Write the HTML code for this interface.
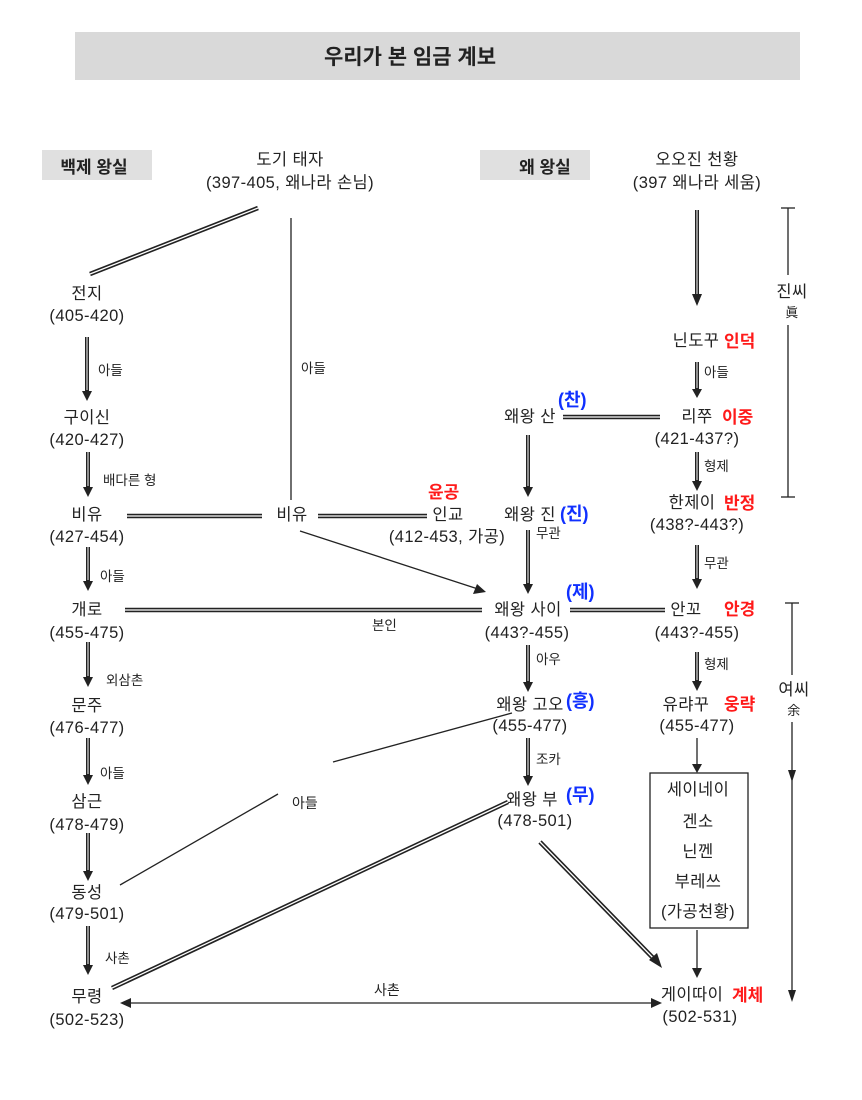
<!DOCTYPE html>
<html><head><meta charset="utf-8">
<style>
html,body{margin:0;padding:0;background:#fff;}
svg{display:block;}
text{font-family:"Liberation Sans","Noto Sans CJK KR",sans-serif;fill:#222;}
.n{font-size:16.5px;text-anchor:middle;letter-spacing:0.4px;}
.s{font-size:13.5px;}
.r{fill:#ff1a1a;font-size:17px;font-weight:bold;}
.b{fill:#1030ff;font-size:18px;font-weight:bold;}
</style></head><body>
<svg width="862" height="1100" viewBox="0 0 862 1100" xmlns="http://www.w3.org/2000/svg">
<rect x="75" y="32" width="725" height="48" fill="#d9d9d9"/>
<text x="410" y="64" style="font-size:21px;font-weight:bold;text-anchor:middle">우리가 본 임금 계보</text>
<rect x="42" y="150" width="110" height="30" fill="#e0e0e0"/>
<text x="94" y="173" style="font-size:17px;font-weight:bold;text-anchor:middle">백제 왕실</text>
<rect x="480" y="150" width="110" height="30" fill="#e0e0e0"/>
<text x="545" y="173" style="font-size:17px;font-weight:bold;text-anchor:middle">왜 왕실</text>

<g class="n">
<text x="290" y="165">도기 태자</text>
<text x="290" y="188">(397-405, 왜나라 손님)</text>
<text x="697" y="165">오오진 천황</text>
<text x="697" y="188">(397 왜나라 세움)</text>

<text x="87" y="299">전지</text><text x="87" y="321">(405-420)</text>
<text x="87" y="423">구이신</text><text x="87" y="445">(420-427)</text>
<text x="87" y="520">비유</text><text x="87" y="542">(427-454)</text>
<text x="292" y="520">비유</text>
<text x="448" y="520">인교</text><text x="447" y="542">(412-453, 가공)</text>
<text x="87" y="615">개로</text><text x="87" y="638">(455-475)</text>
<text x="87" y="711">문주</text><text x="87" y="733">(476-477)</text>
<text x="87" y="807">삼근</text><text x="87" y="830">(478-479)</text>
<text x="87" y="898">동성</text><text x="87" y="919">(479-501)</text>
<text x="87" y="1002">무령</text><text x="87" y="1025">(502-523)</text>

<text x="530" y="422">왜왕 산</text>
<text x="530" y="520">왜왕 진</text>
<text x="528" y="615">왜왕 사이</text><text x="527" y="638">(443?-455)</text>
<text x="530" y="710">왜왕 고오</text><text x="530" y="731">(455-477)</text>
<text x="532" y="805">왜왕 부</text><text x="535" y="826">(478-501)</text>

<text x="696" y="346">닌도꾸</text>
<text x="697" y="422">리쭈</text><text x="697" y="444">(421-437?)</text>
<text x="692" y="508">한제이</text><text x="697" y="530">(438?-443?)</text>
<text x="686" y="615">안꼬</text><text x="697" y="638">(443?-455)</text>
<text x="686" y="710">유랴꾸</text><text x="697" y="731">(455-477)</text>
<text x="698" y="795">세이네이</text>
<text x="698" y="827">겐소</text>
<text x="698" y="857">닌껜</text>
<text x="698" y="887">부레쓰</text>
<text x="698" y="917">(가공천황)</text>
<text x="692" y="1000">게이따이</text><text x="700" y="1022">(502-531)</text>
<text x="792" y="297">진씨</text><text x="792" y="317" style="font-size:13px">眞</text>
<text x="794" y="695">여씨</text><text x="794" y="715" style="font-size:13px">余</text>
</g>

<g>
<text class="r" x="724" y="347">인덕</text>
<text class="r" x="722" y="423">이중</text>
<text class="r" x="724" y="509">반정</text>
<text class="r" x="724" y="615">안경</text>
<text class="r" x="724" y="710">웅략</text>
<text class="r" x="732" y="1001">계체</text>
<text class="r" x="428" y="498">윤공</text>
<text class="b" x="558" y="406">(찬)</text>
<text class="b" x="560" y="520">(진)</text>
<text class="b" x="566" y="598">(제)</text>
<text class="b" x="566" y="707">(흥)</text>
<text class="b" x="566" y="801">(무)</text>
</g>

<g class="s">
<text x="98" y="375">아들</text>
<text x="103" y="485">배다른 형</text>
<text x="301" y="373">아들</text>
<text x="100" y="581">아들</text>
<text x="106" y="685">외삼촌</text>
<text x="100" y="778">아들</text>
<text x="105" y="963">사촌</text>
<text x="372" y="630">본인</text>
<text x="292" y="808" style="font-size:14px">아들</text>
<text x="374" y="995" style="font-size:14px">사촌</text>
<text x="536" y="538">무관</text>
<text x="536" y="664">아우</text>
<text x="536" y="764">조카</text>
<text x="704" y="377">아들</text>
<text x="704" y="471">형제</text>
<text x="704" y="568">무관</text>
<text x="704" y="669">형제</text>
</g>

<g fill="none">
<g stroke="#222" stroke-width="4.5">
<line x1="258" y1="208" x2="90" y2="274"/>
<line x1="127" y1="516" x2="262" y2="516"/>
<line x1="318" y1="516" x2="427" y2="516"/>
<line x1="125" y1="610" x2="482" y2="610"/>
<line x1="570" y1="610" x2="665" y2="610"/>
<line x1="563" y1="417" x2="660" y2="417"/>
<line x1="112" y1="988" x2="508" y2="802"/>
<line x1="540" y1="842" x2="655" y2="960"/>
</g>
<g stroke="#fff" stroke-width="1.3">
<line x1="258" y1="208" x2="90" y2="274"/>
<line x1="127" y1="516" x2="262" y2="516"/>
<line x1="318" y1="516" x2="427" y2="516"/>
<line x1="125" y1="610" x2="482" y2="610"/>
<line x1="570" y1="610" x2="665" y2="610"/>
<line x1="563" y1="417" x2="660" y2="417"/>
<line x1="112" y1="988" x2="508" y2="802"/>
<line x1="540" y1="842" x2="655" y2="960"/>
</g>
<polygon points="662,968 649,960 657,953" fill="#222"/>

<g stroke="#222" stroke-width="4">
<line x1="87" y1="337" x2="87" y2="392"/>
<line x1="88" y1="452" x2="88" y2="488"/>
<line x1="88" y1="547" x2="88" y2="582"/>
<line x1="88" y1="642" x2="88" y2="678"/>
<line x1="88" y1="738" x2="88" y2="776"/>
<line x1="88" y1="833" x2="88" y2="872"/>
<line x1="88" y1="926" x2="88" y2="966"/>
<line x1="697" y1="210" x2="697" y2="296"/>
<line x1="697" y1="362" x2="697" y2="390"/>
<line x1="697" y1="452" x2="697" y2="482"/>
<line x1="697" y1="545" x2="697" y2="580"/>
<line x1="697" y1="652" x2="697" y2="682"/>
<line x1="528" y1="435" x2="528" y2="488"/>
<line x1="528" y1="530" x2="528" y2="585"/>
<line x1="528" y1="645" x2="528" y2="683"/>
<line x1="528" y1="738" x2="528" y2="777"/>
</g>
<g stroke="#fff" stroke-width="1">
<line x1="87" y1="337" x2="87" y2="390"/>
<line x1="88" y1="452" x2="88" y2="486"/>
<line x1="88" y1="547" x2="88" y2="580"/>
<line x1="88" y1="642" x2="88" y2="676"/>
<line x1="88" y1="738" x2="88" y2="774"/>
<line x1="88" y1="833" x2="88" y2="870"/>
<line x1="88" y1="926" x2="88" y2="964"/>
<line x1="697" y1="210" x2="697" y2="294"/>
<line x1="697" y1="362" x2="697" y2="388"/>
<line x1="697" y1="452" x2="697" y2="480"/>
<line x1="697" y1="545" x2="697" y2="578"/>
<line x1="697" y1="652" x2="697" y2="680"/>
<line x1="528" y1="435" x2="528" y2="486"/>
<line x1="528" y1="530" x2="528" y2="583"/>
<line x1="528" y1="645" x2="528" y2="681"/>
<line x1="528" y1="738" x2="528" y2="775"/>
</g>
<g fill="#222">
<polygon points="82,391 92,391 87,401"/>
<polygon points="83,487 93,487 88,497"/>
<polygon points="83,581 93,581 88,591"/>
<polygon points="83,677 93,677 88,687"/>
<polygon points="83,775 93,775 88,785"/>
<polygon points="83,871 93,871 88,881"/>
<polygon points="83,965 93,965 88,975"/>
<polygon points="692,294 702,294 697,306"/>
<polygon points="692,389 702,389 697,398"/>
<polygon points="692,481 702,481 697,491"/>
<polygon points="692,579 702,579 697,589"/>
<polygon points="692,681 702,681 697,691"/>
<polygon points="523,487 533,487 528,497"/>
<polygon points="523,584 533,584 528,594"/>
<polygon points="523,682 533,682 528,692"/>
<polygon points="523,776 533,776 528,786"/>
</g>

<g stroke="#222" stroke-width="1.3">
<line x1="291" y1="218" x2="291" y2="500"/>
<line x1="300" y1="531" x2="478" y2="589"/>
<line x1="120" y1="885" x2="278" y2="794"/>
<line x1="333" y1="762" x2="512" y2="713"/>
<line x1="697" y1="738" x2="697" y2="764"/>
<line x1="697" y1="930" x2="697" y2="970"/>
<line x1="130" y1="1003" x2="652" y2="1003"/>
<line x1="788" y1="208" x2="788" y2="275"/>
<line x1="788" y1="325" x2="788" y2="497"/>
<line x1="781" y1="208" x2="795" y2="208"/>
<line x1="781" y1="497" x2="795" y2="497"/>
<line x1="792" y1="603" x2="792" y2="675"/>
<line x1="792" y1="722" x2="792" y2="995"/>
<line x1="785" y1="603" x2="799" y2="603"/>
</g>
<rect x="650" y="773" width="98" height="155" stroke="#222" stroke-width="1.3" fill="none"/>
</g>
<g fill="#222">
<polygon points="486,592 473,594 477,584"/>
<polygon points="692,764 702,764 697,773"/>
<polygon points="692,968 702,968 697,978"/>
<polygon points="120,1003 131,998 131,1008"/>
<polygon points="662,1003 651,998 651,1008"/>
<polygon points="788,770 796,770 792,782"/>
<polygon points="788,990 796,990 792,1002"/>
</g>
</svg>
</body></html>
